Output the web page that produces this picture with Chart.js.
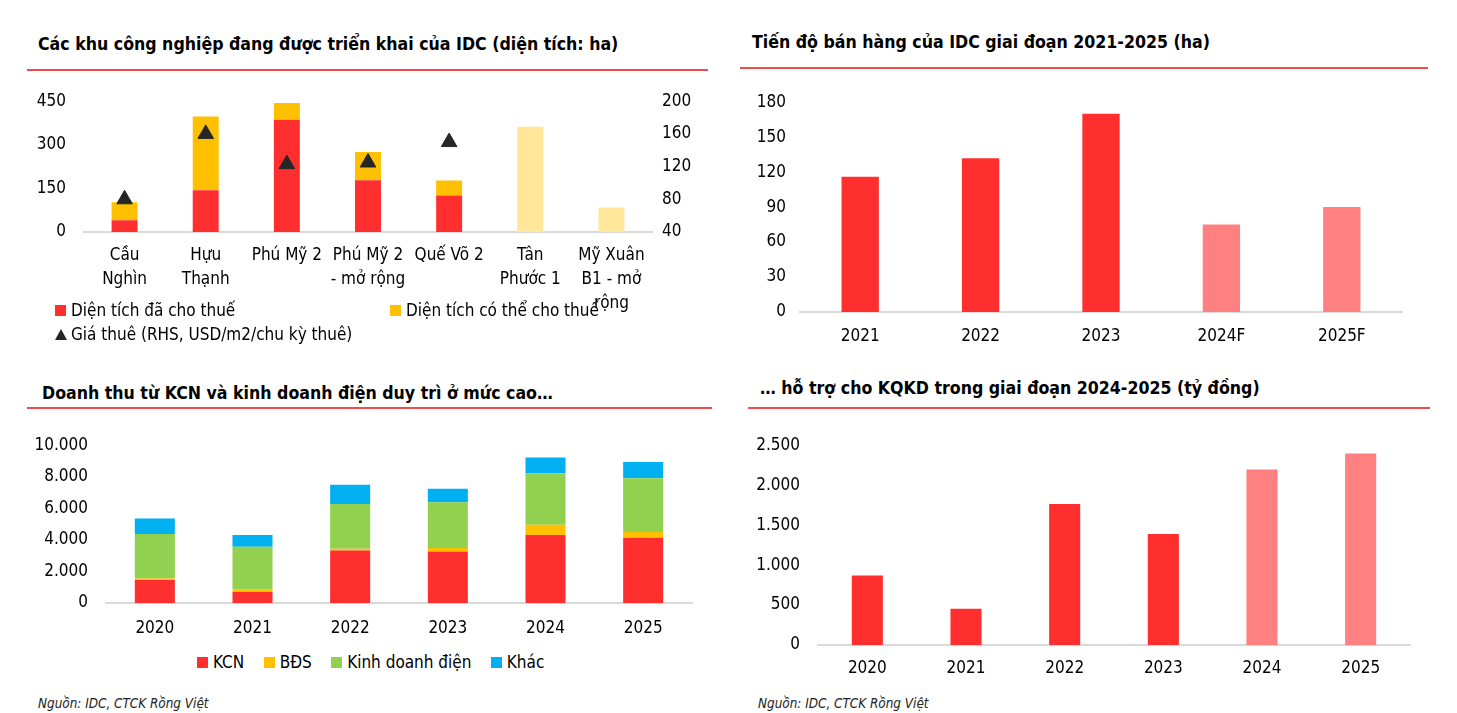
<!DOCTYPE html>
<html>
<head>
<meta charset="utf-8">
<script src="https://cdn.jsdelivr.net/npm/chart.js@4.4.1/dist/chart.umd.min.js"></script>
<style>
  body { margin: 0; background: #fff; width: 1457px; height: 713px; position: relative; overflow: hidden;
         font-family: "Liberation Sans Narrow", "DejaVu Sans Condensed", "Open Sans", sans-serif; color: #000; }
  .title { position: absolute; font-weight: bold; font-size: 17.6px; white-space: nowrap; }
  .rule { position: absolute; height: 2px; background: #EE4B4B; }
  .src { position: absolute; font-style: italic; font-size: 13.4px; color: #222; }
  .box { position: absolute; }
  .leg { position: absolute; font-size: 17px; white-space: nowrap; display: flex; align-items: center; }
  .sw { display: inline-block; width: 11px; height: 11px; margin-right: 5px; }
  .tri { display: inline-block; width: 0; height: 0; border-left: 6px solid transparent; border-right: 6px solid transparent;
         border-bottom: 11px solid #262626; margin-right: 4px; }
</style>
</head>
<body>

<div class="title" style="left:38px; top:34px;">Các khu công nghiệp đang được triển khai của IDC (diện tích: ha)</div>
<div class="rule" style="left:27px; top:69px; width:681px;"></div>
<div class="title" style="left:752px; top:32px;">Tiến độ bán hàng của IDC giai đoạn 2021-2025 (ha)</div>
<div class="rule" style="left:740px; top:67px; width:688px;"></div>
<div class="title" style="left:42px; top:383px;">Doanh thu từ KCN và kinh doanh điện duy trì ở mức cao…</div>
<div class="rule" style="left:27px; top:407px; width:685px;"></div>
<div class="title" style="left:760px; top:378px;">… hỗ trợ cho KQKD trong giai đoạn 2024-2025 (tỷ đồng)</div>
<div class="rule" style="left:748px; top:407px; width:682px;"></div>

<div class="box" style="left:20px; top:81px; width:700px; height:236px;"><canvas id="c1"></canvas></div>
<div class="box" style="left:730px; top:86px; width:700px; height:266px;"><canvas id="c2"></canvas></div>
<div class="box" style="left:20px; top:425px; width:690px; height:218px;"><canvas id="c3"></canvas></div>
<div class="box" style="left:730px; top:425px; width:700px; height:260px;"><canvas id="c4"></canvas></div>

<div class="leg" style="left:55px; top:300px;"><span class="sw" style="background:#FF2F2F"></span>Diện tích đã cho thuế</div>
<div class="leg" style="left:390px; top:300px;"><span class="sw" style="background:#FFC000"></span>Diện tích có thể cho thuế</div>
<div class="leg" style="left:55px; top:324px;"><span class="tri"></span>Giá thuê (RHS, USD/m2/chu kỳ thuê)</div>

<div class="leg" style="left:197px; top:652px;">
  <span class="sw" style="background:#FF2F2F"></span>KCN&nbsp;&nbsp;&nbsp;&nbsp;
  <span class="sw" style="background:#FFC000"></span>BĐS&nbsp;&nbsp;&nbsp;&nbsp;
  <span class="sw" style="background:#92D050"></span>Kinh doanh điện&nbsp;&nbsp;&nbsp;&nbsp;
  <span class="sw" style="background:#00B0F0"></span>Khác
</div>

<div class="src" style="left:38px; top:696px;">Nguồn: IDC, CTCK Rồng Việt</div>
<div class="src" style="left:758px; top:696px;">Nguồn: IDC, CTCK Rồng Việt</div>

<script>
// --- data ---
const parkNames = [['Cầu', 'Nghìn'], ['Hựu', 'Thạnh'], ['Phú Mỹ 2'], ['Phú Mỹ 2', '- mở rộng'], ['Quế Võ 2'], ['Tân', 'Phước 1'], ['Mỹ Xuân', 'B1 - mở', 'rộng']];
const leasedArea = [40, 144, 386, 178, 126, null, null];
const availableArea = [62, 253, 58, 97, 51, 362, 84];
const rentPrice = [80, 160, 123, 125, 150, null, null];

const salesYears = ['2021', '2022', '2023', '2024F', '2025F'];
const salesHa = [116, 132, 170, 75, 90];

const revYears = ['2020', '2021', '2022', '2023', '2024', '2025'];
const revKCN = [1460, 690, 3330, 3260, 4310, 4140];
const revBDS = [90, 170, 105, 230, 650, 360];
const revDien = [2820, 2700, 2845, 2890, 3260, 3410];
const revKhac = [980, 750, 1210, 860, 1000, 1025];

const profitYears = ['2020', '2021', '2022', '2023', '2024', '2025'];
const profitValues = [870, 455, 1765, 1390, 2195, 2395];

// --- styles ---
const RED = '#FF2F2F', PINK = '#FF8080', YELLOW = '#FFC000', LIGHTYELLOW = '#FFE699';
const GREEN = '#92D050', BLUE = '#00B0F0', AXIS = '#D9D9D9';
const FONT = '"Liberation Sans Narrow", "DejaVu Sans Condensed", "Open Sans", sans-serif';

Chart.defaults.font.family = FONT;
Chart.defaults.font.size = 17;
Chart.defaults.color = '#000';
Chart.defaults.animation = false;

const dotted = v => String(v).replace(/\B(?=(\d{3})+(?!\d))/g, '.');

function yAxis(min, max, step, width, pad, extra) {
  return Object.assign({
    min: min, max: max,
    grid: { display: false }, border: { display: false },
    ticks: { stepSize: step, padding: pad, callback: dotted },
    afterFit: s => { s.width = width; }
  }, extra || {});
}
function xAxis(height, pad, stacked, lineHeight) {
  return {
    stacked: !!stacked,
    grid: { display: false },
    border: { display: true, color: AXIS, width: 2 },
    ticks: { padding: pad, maxRotation: 0, autoSkip: false, font: { lineHeight: lineHeight || 1.2 } },
    afterFit: s => { s.height = height; }
  };
}
const noPlugins = { legend: { display: false }, tooltip: { enabled: false } };

// Chart 1: industrial parks
new Chart(document.getElementById('c1'), {
  data: {
    labels: parkNames,
    datasets: [
      { type: 'line', data: rentPrice, yAxisID: 'y2', showLine: false, pointStyle: 'triangle',
        pointRadius: 9, pointBackgroundColor: '#262626', pointBorderColor: '#262626', order: 0 },
      { type: 'bar', data: leasedArea, backgroundColor: RED, stack: 's', yAxisID: 'y',
        barPercentage: 0.64, categoryPercentage: 0.5, order: 1 },
      { type: 'bar', data: availableArea, stack: 's', yAxisID: 'y',
        backgroundColor: [YELLOW, YELLOW, YELLOW, YELLOW, YELLOW, LIGHTYELLOW, LIGHTYELLOW],
        barPercentage: 0.64, categoryPercentage: 0.5, order: 1 }
    ]
  },
  options: {
    responsive: true, maintainAspectRatio: false,
    layout: { padding: { top: 0 } },
    plugins: noPlugins,
    scales: {
      x: xAxis(85, 4, true, 1.4),
      y: yAxis(0, 450, 150, 64, 10, { stacked: true }),
      y2: yAxis(40, 200, 40, 68, 2, { position: 'right' })
    }
  }
});

// Chart 2: sales progress
new Chart(document.getElementById('c2'), {
  type: 'bar',
  data: {
    labels: salesYears,
    datasets: [{ data: salesHa, backgroundColor: [RED, RED, RED, PINK, PINK],
      barPercentage: 0.62, categoryPercentage: 0.5 }]
  },
  options: {
    responsive: true, maintainAspectRatio: false,
    layout: { padding: { top: 7, right: 28 } },
    plugins: noPlugins,
    scales: { x: xAxis(40, 6), y: yAxis(0, 180, 30, 70, 6) }
  }
});

// Chart 3: revenue breakdown
new Chart(document.getElementById('c3'), {
  type: 'bar',
  data: {
    labels: revYears,
    datasets: [
      { label: 'KCN', data: revKCN, backgroundColor: RED },
      { label: 'BĐS', data: revBDS, backgroundColor: YELLOW },
      { label: 'Kinh doanh điện', data: revDien, backgroundColor: GREEN },
      { label: 'Khác', data: revKhac, backgroundColor: BLUE }
    ].map(d => Object.assign(d, { barPercentage: 0.82, categoryPercentage: 0.5 }))
  },
  options: {
    responsive: true, maintainAspectRatio: false,
    layout: { padding: { top: 0, right: 18 } },
    plugins: noPlugins,
    scales: { x: xAxis(40, 7, true), y: yAxis(0, 10000, 2000, 86, 10, { stacked: true }) }
  }
});

// Chart 4: profit
new Chart(document.getElementById('c4'), {
  type: 'bar',
  data: {
    labels: profitYears,
    datasets: [{ data: profitValues, backgroundColor: [RED, RED, RED, RED, PINK, PINK],
      barPercentage: 0.63, categoryPercentage: 0.5 }]
  },
  options: {
    responsive: true, maintainAspectRatio: false,
    layout: { padding: { top: 0, right: 20 } },
    plugins: noPlugins,
    scales: { x: xAxis(40, 5), y: yAxis(0, 2500, 500, 88, 10) }
  }
});
</script>
</body>
</html>
